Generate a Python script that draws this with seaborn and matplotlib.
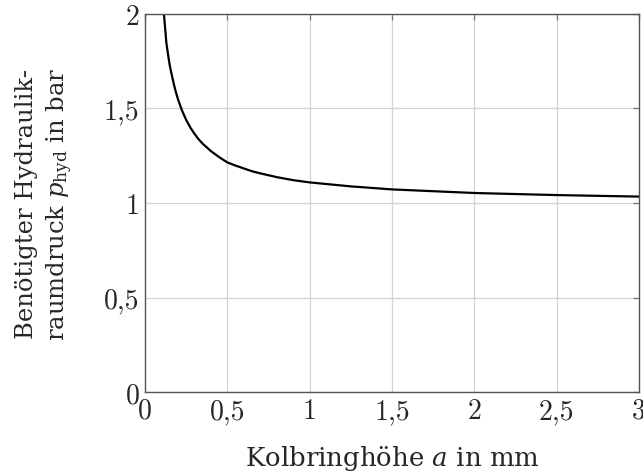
import matplotlib
matplotlib.use("Agg")
import matplotlib.pyplot as plt
import seaborn as sns
import pandas as pd

# Kolbringhöhe a (mm) and required hydraulic chamber pressure (bar)
kolbringhoehe = [0.115, 0.13, 0.14, 0.15, 0.16, 0.175, 0.185, 0.2, 0.225, 0.25,
                 0.275, 0.3, 0.325, 0.35, 0.4, 0.45, 0.5, 0.55, 0.6, 0.65,
                 0.7, 0.8, 0.9, 1.0, 1.25, 1.5, 2.0, 2.5, 3.0]
druck = [2.00, 1.846, 1.786, 1.73, 1.688, 1.63, 1.595, 1.55, 1.489, 1.44,
         1.40, 1.367, 1.338, 1.314, 1.275, 1.243, 1.215, 1.198, 1.183, 1.168,
         1.157, 1.137, 1.121, 1.109, 1.088, 1.072, 1.053, 1.042, 1.034]

x_ticks = [0, 0.5, 1, 1.5, 2, 2.5, 3]
x_ticklabels = ["0", "0,5", "1", "1,5", "2", "2,5", "3"]
y_ticks = [0, 0.5, 1, 1.5, 2]
y_ticklabels = ["0", "0,5", "1", "1,5", "2"]

sns.set_style("white")
plt.rcParams["font.family"] = ["DejaVu Serif"]
plt.rcParams["mathtext.fontset"] = "dejavuserif"

df = pd.DataFrame({"a": kolbringhoehe, "p": druck})

fig = plt.figure(figsize=(6.43, 4.77), dpi=100)
ax = fig.add_axes([0.2255, 0.176, 0.768, 0.7926])

sns.lineplot(data=df, x="a", y="p", ax=ax, color="black", linewidth=1.6)

ax.set_xlim(0, 3)
ax.set_ylim(0, 2)
ax.set_xticks(x_ticks)
ax.set_yticks(y_ticks)
ax.set_xticklabels(x_ticklabels, fontfamily="cmr10", fontsize=20)
ax.set_yticklabels(y_ticklabels, fontfamily="cmr10", fontsize=20)

ax.grid(True, color="#d3d3d3", linewidth=0.9)
ax.set_axisbelow(True)
for s in ax.spines.values():
    s.set_color("#555555")
    s.set_linewidth(1.0)
ax.tick_params(direction="in", length=4, width=0.9, color="#777777",
               top=True, right=True, pad=4)

ax.set_xlabel("Kolbringhöhe $a$ in mm", fontsize=18.7, labelpad=14)
ax.set_ylabel("Benötigter Hydraulik-\nraumdruck $p_{\\mathrm{hyd}}$ in bar",
              fontsize=17.5, linespacing=1.3)
ax.yaxis.set_label_coords(-0.142, 0.5)

fig.savefig("out.png", dpi=100)
